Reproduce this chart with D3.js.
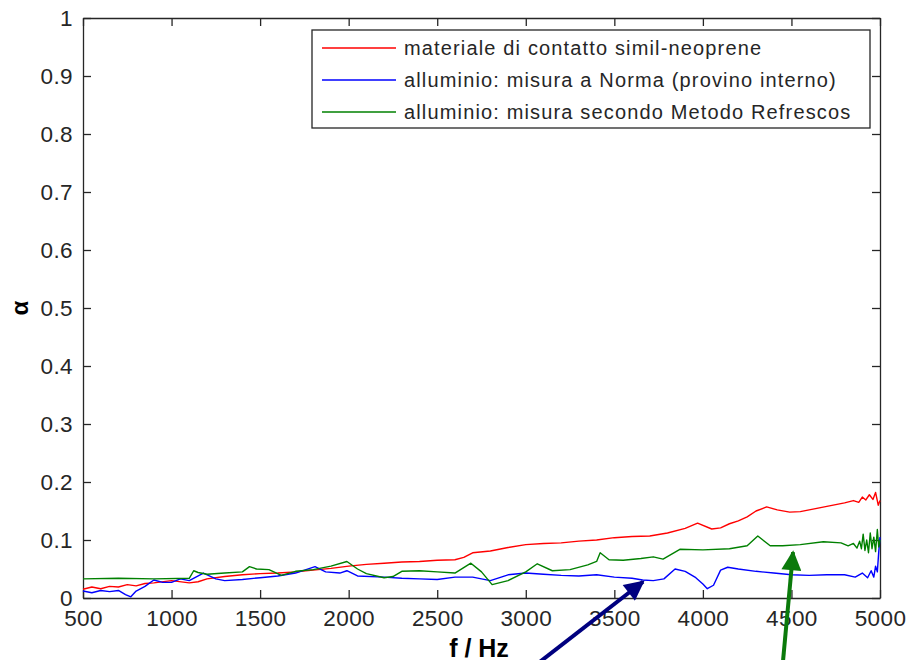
<!DOCTYPE html>
<html>
<head>
<meta charset="utf-8">
<script src="https://cdn.jsdelivr.net/npm/d3@7"></script>
<style>
  body { margin: 0; background: #fff; }
  text { font-family: "Liberation Sans", Arial, sans-serif; }
</style>
</head>
<body>
<svg id="chart" width="908" height="660"></svg>
<script>
// frequencies (Hz) and alpha values
const redF = [500, 550, 600, 650, 700, 750, 800, 850, 900, 1000, 1100, 1150, 1200, 1300, 1400, 1500, 1600, 1700, 1800, 1900, 2000, 2100, 2200, 2300, 2400, 2500, 2600, 2650, 2700, 2800, 2900, 3000, 3100, 3200, 3300, 3400, 3500, 3600, 3700, 3800, 3900, 3970, 4050, 4100, 4150, 4200, 4250, 4300, 4360, 4420, 4490, 4550, 4600, 4700, 4800, 4850, 4880, 4900, 4920, 4940, 4960, 4975, 4990, 5000];
const redA = [0.015, 0.019, 0.016, 0.02, 0.019, 0.023, 0.021, 0.025, 0.026, 0.03, 0.026, 0.028, 0.033, 0.037, 0.04, 0.042, 0.043, 0.045, 0.048, 0.051, 0.055, 0.058, 0.06, 0.062, 0.063, 0.065, 0.066, 0.07, 0.078, 0.081, 0.087, 0.092, 0.094, 0.095, 0.098, 0.1, 0.104, 0.106, 0.107, 0.112, 0.12, 0.129, 0.119, 0.121, 0.128, 0.133, 0.14, 0.15, 0.157, 0.152, 0.148, 0.149, 0.152, 0.158, 0.164, 0.168, 0.165, 0.174, 0.169, 0.178, 0.17, 0.182, 0.16, 0.168];

const blueF = [500, 550, 600, 650, 700, 740, 770, 800, 850, 900, 950, 1000, 1050, 1100, 1180, 1250, 1300, 1400, 1500, 1600, 1700, 1810, 1870, 1950, 1990, 2050, 2200, 2300, 2400, 2500, 2600, 2700, 2800, 2900, 3000, 3100, 3200, 3300, 3400, 3500, 3600, 3660, 3720, 3780, 3843, 3900, 3960, 4000, 4025, 4060, 4100, 4140, 4200, 4300, 4400, 4500, 4600, 4700, 4800, 4860, 4900, 4930, 4950, 4965, 4975, 4985, 4993, 5000];
const blueA = [0.012, 0.009, 0.013, 0.011, 0.013, 0.006, 0.002, 0.012, 0.02, 0.031, 0.027, 0.027, 0.033, 0.03, 0.043, 0.033, 0.03, 0.032, 0.035, 0.038, 0.043, 0.054, 0.045, 0.043, 0.047, 0.038, 0.036, 0.034, 0.033, 0.032, 0.036, 0.036, 0.03, 0.04, 0.043, 0.041, 0.039, 0.038, 0.04, 0.036, 0.034, 0.031, 0.03, 0.033, 0.05, 0.046, 0.035, 0.024, 0.016, 0.022, 0.048, 0.053, 0.05, 0.046, 0.043, 0.04, 0.039, 0.04, 0.04, 0.036, 0.043, 0.035, 0.047, 0.036, 0.055, 0.045, 0.08, 0.105];

const greenF = [500, 700, 900, 1100, 1125, 1150, 1200, 1300, 1400, 1440, 1480, 1550, 1620, 1700, 1800, 1900, 1990, 2050, 2100, 2200, 2250, 2300, 2400, 2500, 2600, 2690, 2750, 2810, 2900, 3000, 3065, 3150, 3250, 3350, 3400, 3420, 3470, 3550, 3650, 3720, 3775, 3870, 4000, 4150, 4250, 4310, 4380, 4450, 4550, 4680, 4780, 4820, 4850, 4870, 4885, 4895, 4905, 4915, 4925, 4935, 4945, 4955, 4965, 4975, 4985, 4993, 5000];
const greenA = [0.033, 0.034, 0.033, 0.034, 0.047, 0.044, 0.041, 0.043, 0.045, 0.054, 0.05, 0.049, 0.039, 0.046, 0.049, 0.055, 0.063, 0.05, 0.042, 0.035, 0.037, 0.046, 0.047, 0.045, 0.043, 0.06, 0.045, 0.023, 0.03, 0.045, 0.059, 0.047, 0.049, 0.057, 0.063, 0.078, 0.066, 0.065, 0.068, 0.071, 0.067, 0.084, 0.083, 0.085, 0.09, 0.107, 0.09, 0.09, 0.092, 0.097, 0.095, 0.09, 0.094, 0.086, 0.098, 0.085, 0.11, 0.082, 0.1, 0.078, 0.112, 0.085, 0.105, 0.08, 0.118, 0.088, 0.1];

const series = [
    { name: "materiale di contatto simil-neoprene", color: "#ff0000", f: redF, a: redA },
    { name: "alluminio: misura a Norma (provino interno)", color: "#0000ff", f: blueF, a: blueA },
    { name: "alluminio: misura secondo Metodo Refrescos", color: "#008000", f: greenF, a: greenA }
];

const xTicks = [500, 1000, 1500, 2000, 2500, 3000, 3500, 4000, 4500, 5000];
const yTicks = [0, 0.1, 0.2, 0.3, 0.4, 0.5, 0.6, 0.7, 0.8, 0.9, 1];

// annotation arrows: [tail f, tail alpha, tip f, tip alpha]
const arrows = [
    { color: "#00007f", pts: [3080, -0.11, 3662, 0.028] },
    { color: "#0b7a0b", pts: [4452, -0.11, 4509, 0.079] }
];

const svg = d3.select("#chart");
const mLeft = 83, mRight = 880, mTop = 18, mBottom = 598;

const x = d3.scaleLinear().domain([500, 5000]).range([mLeft, mRight]);
const y = d3.scaleLinear().domain([0, 1]).range([mBottom, mTop]);

const fmt = d => d === 0 || d === 1 ? String(d) : d3.format(".1f")(d);

// axes (MATLAB style: ticks inside, box round the plot)
svg.append("g").
attr("class", "axis").
attr("transform", "translate(0," + mBottom + ")").
call(d3.axisBottom(x).tickValues(xTicks).tickSizeInner(-8).tickSizeOuter(0).tickPadding(12).tickFormat(d3.format("d")));

svg.append("g").
attr("class", "axis").
attr("transform", "translate(0," + mTop + ")").
call(d3.axisTop(x).tickValues(xTicks).tickSizeInner(-8).tickSizeOuter(0).tickFormat(""));

svg.append("g").
attr("class", "axis").
attr("transform", "translate(" + mLeft + ",0)").
call(d3.axisLeft(y).tickValues(yTicks).tickSizeInner(-8).tickSizeOuter(0).tickPadding(10).tickFormat(fmt));

svg.append("g").
attr("class", "axis").
attr("transform", "translate(" + mRight + ",0)").
call(d3.axisRight(y).tickValues(yTicks).tickSizeInner(-8).tickSizeOuter(0).tickFormat(""));

svg.selectAll(".axis path, .axis line").attr("stroke", "#262626").attr("stroke-width", 1.3);
svg.selectAll(".axis text").
attr("fill", "#262626").
style("font-size", "22.5px").
style("letter-spacing", "0.4px").
style("font-family", "'Liberation Sans', Arial, sans-serif");

// data lines
const line = d3.line().x(d => x(d[0])).y(d => y(d[1]));

svg.append("g").
selectAll("path").
data(series).
join("path").
attr("d", s => line(s.f.map((f, i) => [f, s.a[i]]))).
attr("fill", "none").
attr("stroke", s => s.color).
attr("stroke-width", 1.4).
attr("stroke-linejoin", "round");

// legend
const legend = svg.append("g").attr("transform", "translate(312,30)");
legend.append("rect").
attr("width", 558).
attr("height", 98).
attr("fill", "#fff").
attr("stroke", "#262626").
attr("stroke-width", 1.3);

const items = legend.selectAll("g").
data(series).
join("g").
attr("transform", (d, i) => "translate(0," + (18 + i * 32) + ")");

items.append("line").
attr("x1", 10).
attr("x2", 84).
attr("stroke", d => d.color).
attr("stroke-width", 1.3);

items.append("text").
attr("x", 92).
attr("dy", "0.35em").
attr("fill", "#262626").
style("font-size", "20px").
style("letter-spacing", "1.15px").
text(d => d.name);

// axis labels
svg.append("text").
attr("x", 479).
attr("y", 657).
attr("text-anchor", "middle").
style("font-weight", "bold").
style("font-size", "25px").
text("f / Hz");

svg.append("text").
attr("transform", "translate(28," + y(0.5) + ") rotate(-90)").
attr("text-anchor", "middle").
style("font-weight", "bold").
style("font-size", "24px").
text("α");

// arrows
const defs = svg.append("defs");
arrows.forEach((a, i) => {
    defs.append("marker").
    attr("id", "head" + i).
    attr("viewBox", "0 0 10 10").
    attr("refX", 9).
    attr("refY", 5).
    attr("markerUnits", "userSpaceOnUse").
    attr("markerWidth", 24).
    attr("markerHeight", 20).
    attr("orient", "auto").
    append("path").
    attr("d", "M0,0 L10,5 L0,10 z").
    attr("fill", a.color);

    svg.append("line").
    attr("x1", x(a.pts[0])).
    attr("y1", y(a.pts[1])).
    attr("x2", x(a.pts[2])).
    attr("y2", y(a.pts[3])).
    attr("stroke", a.color).
    attr("stroke-width", 4).
    attr("marker-end", "url(#head" + i + ")");
});
</script>
</body>
</html>
